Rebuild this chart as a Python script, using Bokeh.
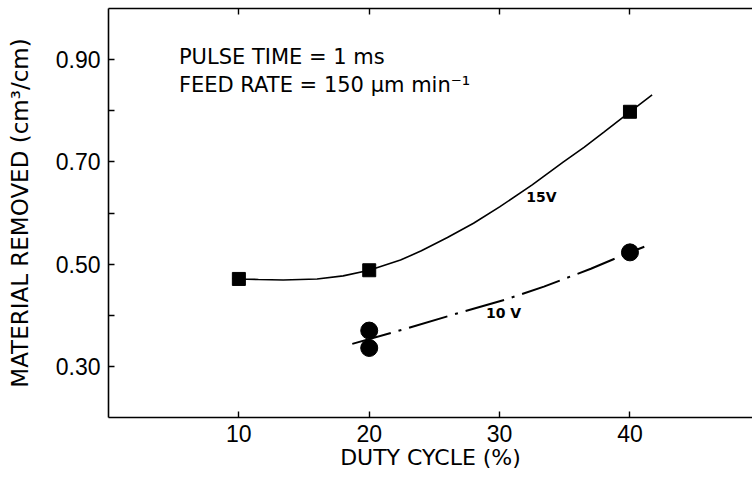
from bokeh.plotting import figure
from bokeh.models import LinearAxis, FixedTicker, Range1d, ColumnDataSource
from bokeh.core.properties import value
from bokeh.embed import file_html
from bokeh.resources import INLINE

# ---- data ----
duty_15v = [10, 20, 40]
removed_15v = [0.471, 0.488, 0.798]
duty_10v = [20, 20, 40]
removed_10v = [0.370, 0.336, 0.523]

# fitted curves as drawn
curve15_x = [9.5, 10, 11.5, 13.4, 16, 18, 20, 22.4, 24, 26, 28, 30, 32.5, 34.9, 36.5, 38, 40, 41.7]
curve15_y = [0.472, 0.471, 0.470, 0.469, 0.471, 0.477, 0.488, 0.508, 0.526, 0.552, 0.580, 0.612, 0.655, 0.700, 0.729, 0.758, 0.798, 0.831]
curve10_x = [18.7, 23, 27.2, 30.5, 33.4, 37, 40, 41.1]
curve10_y = [0.344, 0.375, 0.407, 0.431, 0.456, 0.491, 0.523, 0.534]

x_ticks = [10, 20, 30, 40]
y_major = [0.3, 0.5, 0.7, 0.9]
y_minor = [0.4, 0.6, 0.8]
y_labels = {0.3: "0.30", 0.5: "0.50", 0.7: "0.70", 0.9: "0.90"}

notes = ["PULSE TIME = 1 ms", "FEED RATE = 150 \u03bcm min\u207b\u00b9"]
notes_x = [5.4, 5.4]
notes_y = [0.9055, 0.850]
curve_labels = ["15V", "10 V"]
curve_labels_x = [33.2, 30.3]
curve_labels_y = [0.631, 0.405]

LABEL_FONT = "DejaVu Sans"
TICK_FONT = "Liberation Sans"

p = figure(width=752, height=478, output_backend="svg", toolbar_location=None,
           x_range=Range1d(0, 49.4), y_range=Range1d(0.2, 1.0),
           x_axis_location=None, y_axis_location=None,
           min_border_left=108, min_border_right=0, min_border_top=8, min_border_bottom=61)
p.outline_line_color = None
p.grid.visible = False
p.background_fill_color = "white"
p.border_fill_color = "white"

xb = LinearAxis(ticker=FixedTicker(ticks=x_ticks))
xb.axis_label = "DUTY CYCLE (%)"
ya = LinearAxis(ticker=FixedTicker(ticks=y_major, minor_ticks=y_minor))
ya.axis_label = "MATERIAL REMOVED (cm\u00b3/cm)"
ya.major_label_overrides = y_labels
xt = LinearAxis(ticker=FixedTicker(ticks=x_ticks))
xt.major_label_overrides = {t: "" for t in x_ticks}
xt.major_label_standoff = 0

for ax in (xb, ya, xt):
    ax.axis_line_color = "black"
    ax.axis_line_width = 1.6
    ax.major_tick_line_color = "black"
    ax.major_tick_line_width = 1.4
    ax.minor_tick_line_color = "black"
    ax.minor_tick_line_width = 1.4
    ax.major_tick_in = 6
    ax.major_tick_out = 0
    ax.minor_tick_in = 0
    ax.minor_tick_out = 0
    ax.major_label_text_font = TICK_FONT
    ax.major_label_text_color = "black"
    ax.axis_label_text_font = LABEL_FONT
    ax.axis_label_text_font_style = "normal"
    ax.axis_label_text_color = "black"
ya.minor_tick_in = 6
for ax in (xb, ya):
    ax.major_label_text_font_size = "23px"
xb.axis_label_text_font_size = "22px"
xb.major_label_standoff = 7
xb.axis_label_standoff = 0
ya.major_label_standoff = 8
ya.axis_label_standoff = 20
ya.axis_label_text_font_size = "23px"

p.add_layout(xb, "below")
p.add_layout(ya, "left")
p.add_layout(xt, "above")

# fitted curves
p.line(curve15_x, curve15_y, line_color="black", line_width=1.6)
p.line(curve10_x, curve10_y, line_color="black", line_width=2.0, line_dash="40 8 3 8")

# data points
p.scatter(duty_15v, removed_15v, marker="square", size=13, fill_color="black", line_color="black")
p.scatter(duty_10v, removed_10v, marker="circle", size=17, fill_color="black", line_color="black")

# annotations
src_notes = ColumnDataSource(dict(x=notes_x, y=notes_y, t=notes))
p.text(x="x", y="y", text="t", source=src_notes, text_font=value(LABEL_FONT),
       text_font_size="21px", text_color="black", text_baseline="alphabetic", text_align="left")
src_cl = ColumnDataSource(dict(x=curve_labels_x, y=curve_labels_y, t=curve_labels))
p.text(x="x", y="y", text="t", source=src_cl, text_font=value(LABEL_FONT),
       text_font_size="14px", text_font_style="bold", text_color="black",
       text_baseline="middle", text_align="center")

open("out.html", "w").write(file_html(p, INLINE))
